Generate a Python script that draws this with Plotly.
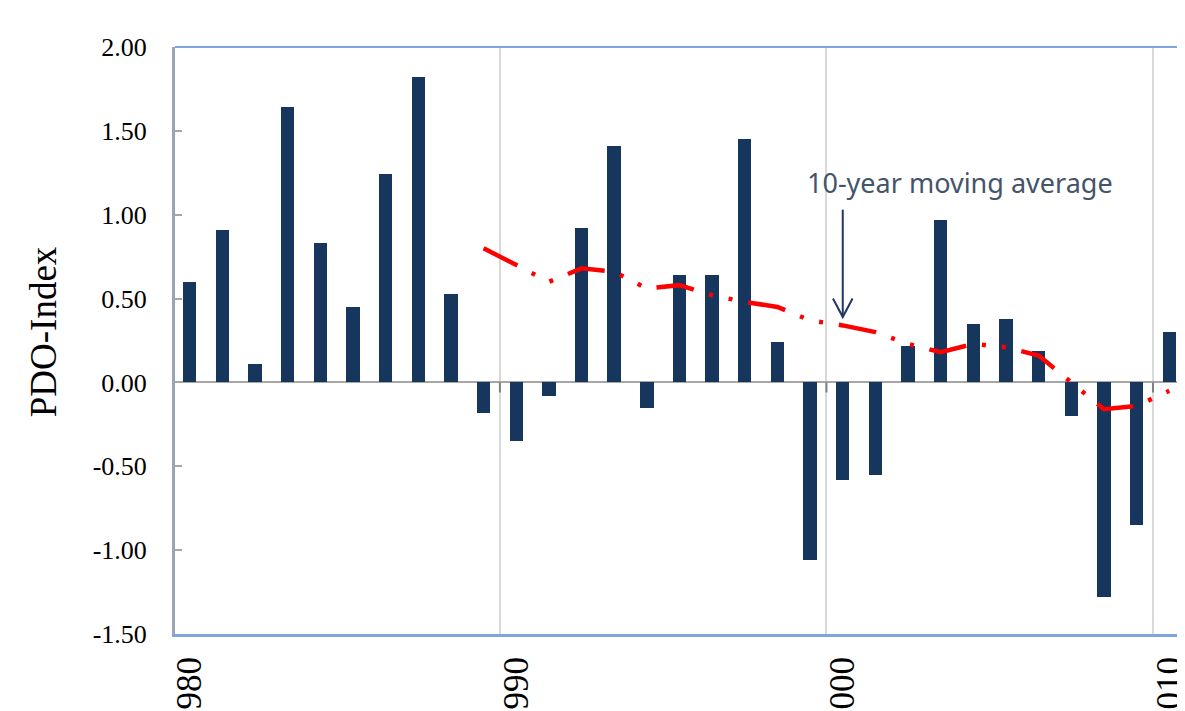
import plotly.graph_objects as go

years = list(range(1980, 2011))
pdo = [0.60, 0.91, 0.11, 1.64, 0.83, 0.45, 1.24, 1.82, 0.53, -0.18,
       -0.35, -0.08, 0.92, 1.41, -0.15, 0.64, 0.64, 1.45, 0.24, -1.06,
       -0.58, -0.55, 0.22, 0.97, 0.35, 0.38, 0.19, -0.20, -1.28, -0.85,
       0.30]
ma_years = list(range(1989, 2011))
ma_values = [0.80, 0.70, 0.60, 0.68, 0.66, 0.56, 0.58, 0.52, 0.48, 0.45,
             0.37, 0.34, 0.30, 0.23, 0.18, 0.23, 0.21, 0.16, 0.00, -0.16,
             -0.14, -0.05]
x_tick_vals = [1980, 1990, 2000, 2010]
x_tick_text = ["1980", "1990", "2000", "2010"]
y_tick_vals = [2.0, 1.5, 1.0, 0.5, 0.0, -0.5, -1.0, -1.5]
y_tick_text = ["2.00", "1.50", "1.00", "0.50", "0.00", "-0.50", "-1.00", "-1.50"]
grid_years = [1979.5, 1989.5, 1999.5, 2009.5]

BAR = "#17365D"
BLUE_LINE = "#7EA6DC"
serif = "Liberation Serif"

fig = go.Figure()
fig.add_trace(go.Bar(x=years, y=pdo, width=0.41, marker=dict(color=BAR, line=dict(width=0)),
                     showlegend=False, hoverinfo="x+y"))
fig.add_trace(go.Scatter(x=ma_years, y=ma_values, mode="lines",
                         line=dict(color="#FF0000", width=4.5,
                                   dash="38px,16px,4px,16px,4px,16px"),
                         showlegend=False))

shapes = []
# top and right border
shapes.append(dict(type="line", xref="paper", yref="paper", x0=0, x1=1, y0=1, y1=1,
                   line=dict(color=BLUE_LINE, width=2)))
shapes.append(dict(type="line", xref="paper", yref="paper", x0=1, x1=1, y0=0, y1=1,
                   line=dict(color=BLUE_LINE, width=2)))
# small ticks on zero line at category boundaries
for gy in grid_years[1:]:
    shapes.append(dict(type="line", xref="x", yref="y", x0=gy, x1=gy, y0=0, y1=-0.06,
                       line=dict(color="#7F7F7F", width=2)))
# arrow for annotation
ARROW = "#1F3864"
shapes.append(dict(type="line", xref="x", yref="y", x0=2000.0, x1=2000.0, y0=1.03, y1=0.39,
                   line=dict(color=ARROW, width=2)))
shapes.append(dict(type="path", xref="x", yref="y",
                   path="M 1999.7,0.50 L 2000.0,0.39 L 2000.3,0.50",
                   line=dict(color=ARROW, width=2)))

# page body has an 8px margin: size the figure so it fills the window exactly
fig.update_layout(
    width=1177, height=703,
    margin=dict(l=167, r=2, t=39, b=77),
    paper_bgcolor="white", plot_bgcolor="white",
    bargap=0,
    shapes=shapes,
    xaxis=dict(
        range=[1979.55, 2010.42], automargin=False,
        tickvals=x_tick_vals, ticktext=x_tick_text, tickangle=-90,
        ticks="", ticklabelstandoff=6, ticklabeloverflow="allow",
        tickfont=dict(family=serif, size=35, color="black"),
        showgrid=False,
        minor=dict(tickvals=grid_years, showgrid=True, gridcolor="#D9D9D9", gridwidth=2, ticks=""),
        showline=True, linecolor=BLUE_LINE, linewidth=3, mirror=False,
        zeroline=False,
    ),
    yaxis=dict(
        range=[-1.5, 2.0], automargin=False,
        tickvals=y_tick_vals, ticktext=y_tick_text,
        ticks="inside", ticklen=7, tickcolor="#A6A6A6", tickwidth=2,
        ticklabelstandoff=20,
        tickfont=dict(family=serif, size=26, color="black"),
        showgrid=False,
        zeroline=True, zerolinecolor="#A6A6A6", zerolinewidth=2,
        showline=True, linecolor="#9AA6B8", linewidth=3,
    ),
    annotations=[
        dict(text="PDO-Index", xref="paper", yref="paper", x=(35 - 167) / 1008, y=0.514,
             textangle=-90, showarrow=False, xanchor="center", yanchor="middle",
             font=dict(family=serif, size=37, color="black")),
        dict(text="10-year moving average", xref="x", yref="y", x=2003.6, y=1.19,
             showarrow=False, xanchor="center", yanchor="middle",
             font=dict(family="Noto Sans", size=27, color="#44546A")),
    ],
)

fig.write_html("out.html")
